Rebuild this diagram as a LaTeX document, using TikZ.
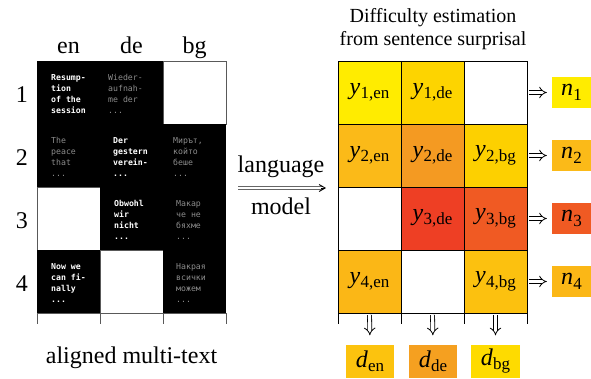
\documentclass[tikz,border=0pt]{standalone}
\usepackage{fontspec}
\setmainfont{Liberation Serif}
\newfontfamily\cellfont{DejaVu Sans Mono}
\usetikzlibrary{arrows.meta}
\definecolor{yA}{HTML}{FFEC00}
\definecolor{yB}{HTML}{FDD400}
\definecolor{yC}{HTML}{FBBA18}
\definecolor{yD}{HTML}{F49A22}
\definecolor{yE}{HTML}{FDD000}
\definecolor{yF}{HTML}{EE3F24}
\definecolor{yG}{HTML}{F05A23}
\definecolor{yH}{HTML}{FBB716}
\definecolor{yI}{HTML}{FCC10F}
\definecolor{dA}{HTML}{FCC30E}
\definecolor{dB}{HTML}{F5A020}
\definecolor{dC}{HTML}{FEDB00}
\definecolor{txtgray}{HTML}{8C8C8C}
\newcommand\sublab[2]{\textit{#1}\kern0.3pt\raisebox{-4.5pt}{\fontsize{17}{17}\selectfont #2}}
\tikzset{
  x=1pt, y=-1pt,
  big/.style={font=\fontsize{24}{28}\selectfont, inner sep=0pt},
  lcell/.style={minimum width=63pt, minimum height=63pt, inner sep=0pt, outer sep=0pt},
  blackcell/.style={lcell, fill=black},
  whitecell/.style={lcell, fill=white, draw=gray!70!black, line width=0.6pt},
  rcell/.style={lcell, draw=black, line width=0.8pt, font=\fontsize{24}{28}\selectfont},
  ctext/.style={anchor=west, align=left, inner sep=0pt, font=\cellfont\fontsize{8.2}{11}\selectfont},
  boldtxt/.style={ctext, text=white, font=\cellfont\bfseries\fontsize{8.2}{11}\selectfont},
  graytxt/.style={ctext, text=txtgray},
  outbox/.style={inner sep=0pt, font=\fontsize{24}{28}\selectfont},
  impl/.style={double, double distance=3.2pt, line width=0.8pt, -{Implies}},
  tick/.style={line width=0.8pt, draw=gray!70!black},
  shaft/.style={draw=gray!80!black, line width=0.8pt}
}
\begin{document}
\begin{tikzpicture}
\useasboundingbox (0,0) rectangle (591,378);
% column and row labels
\node[big, anchor=base] (len) at (68.5,53) {en};
\node[big, anchor=base] (lde) at (131.5,53) {de};
\node[big, anchor=base] (lbg) at (194.5,53) {bg};
\node[big] (r1) at (22,95) {1};
\node[big] (r2) at (22,158) {2};
\node[big] (r3) at (22,221) {3};
\node[big] (r4) at (22,284) {4};
% left grid
\node[blackcell] (a11) at (68.5,92.5) {};
\node[blackcell] (a12) at (131.5,92.5) {};
\node[whitecell] (a13) at (194.5,92.5) {};
\node[blackcell] (a21) at (68.5,155.5) {};
\node[blackcell] (a22) at (131.5,155.5) {};
\node[blackcell] (a23) at (194.5,155.5) {};
\node[whitecell] (a31) at (68.5,218.5) {};
\node[blackcell] (a32) at (131.5,218.5) {};
\node[blackcell] (a33) at (194.5,218.5) {};
\node[blackcell] (a41) at (68.5,281.5) {};
\node[whitecell] (a42) at (131.5,281.5) {};
\node[blackcell] (a43) at (194.5,281.5) {};
\draw[tick] (37,313) -- (226,313);
\foreach \xx in {37,100,163,226} \draw[tick] (\xx,313) -- (\xx,324);
% cell texts
\node[boldtxt] (t11) at (51,94) {Resump-\\tion\\of the\\session};
\node[graytxt] (t12) at (108,94) {Wieder-\\aufnah-\\me der\\...};
\node[graytxt] (t21) at (51,157) {The\\peace\\that\\...};
\node[boldtxt] (t22) at (113,157) {Der\\gestern\\verein-\\...};
\node[graytxt] (t23) at (173,157) {Мирът,\\който\\беше\\...};
\node[boldtxt] (t32) at (114,220) {Obwohl\\wir\\nicht\\...};
\node[graytxt] (t33) at (176,220) {Макар\\че не\\бяхме\\...};
\node[boldtxt] (t41) at (51,283) {Now we\\can fi-\\nally\\...};
\node[graytxt] (t43) at (176,283) {Накрая\\всички\\можем\\...};
\node[big] (cap) at (131.5,358) {aligned multi-text};
% language model arrow
\node[big] (lang) at (281,167) {language};
\node[big] (model) at (281,206) {model};
\coordinate (lmA1) at (238,186.6);
\coordinate (lmC1) at (322,186.6);
\coordinate (lmA2) at (238,189.4);
\coordinate (lmC2) at (322,189.4);
\coordinate (lmB) at (326,188);
\draw[shaft] (lmA1) -- (lmC1);
\draw[shaft] (lmA2) -- (lmC2);
\draw[{Straight Barb[length=6pt,width=7pt]}-, line width=0.9pt] (lmB) -- ++(-5,0);
% title
\node[font=\fontsize{20}{23}\selectfont, align=center, inner sep=0pt] (title) at (433,29) {Difficulty estimation\\from sentence surprisal};
% right grid
\node[rcell, fill=yA] (b11) at (369.5,92.5) {\sublab{y}{1,en}};
\node[rcell, fill=yB] (b12) at (432.5,92.5) {\sublab{y}{1,de}};
\node[rcell, fill=white] (b13) at (495.5,92.5) {};
\node[rcell, fill=yC] (b21) at (369.5,155.5) {\sublab{y}{2,en}};
\node[rcell, fill=yD] (b22) at (432.5,155.5) {\sublab{y}{2,de}};
\node[rcell, fill=yE] (b23) at (495.5,155.5) {\sublab{y}{2,bg}};
\node[rcell, fill=white] (b31) at (369.5,218.5) {};
\node[rcell, fill=yF] (b32) at (432.5,218.5) {\sublab{y}{3,de}};
\node[rcell, fill=yG] (b33) at (495.5,218.5) {\sublab{y}{3,bg}};
\node[rcell, fill=yH] (b41) at (369.5,281.5) {\sublab{y}{4,en}};
\node[rcell, fill=white] (b42) at (432.5,281.5) {};
\node[rcell, fill=yI] (b43) at (495.5,281.5) {\sublab{y}{4,bg}};
\foreach \xx in {338,401,464,527} \draw[line width=0.8pt] (\xx,313) -- (\xx,324);
% n boxes
\node[outbox, fill=yA, minimum width=39pt, minimum height=31pt] (n1) at (571.5,92.5) {\sublab{n}{1}};
\node[outbox, fill=yC, minimum width=39pt, minimum height=31pt] (n2) at (571.5,155.5) {\sublab{n}{2}};
\node[outbox, fill=yG, minimum width=39pt, minimum height=31pt] (n3) at (571.5,218.5) {\sublab{n}{3}};
\node[outbox, fill=yH, minimum width=39pt, minimum height=31pt] (n4) at (571.5,281.5) {\sublab{n}{4}};
\foreach \r in {1,2,3,4} \draw[impl, shorten <=2pt, shorten >=5pt] (b\r3.east) -- (n\r.west);
% d boxes
\node[outbox, fill=dA, minimum width=48pt, minimum height=33pt] (d1) at (370,361) {\sublab{d}{en}};
\node[outbox, fill=dB, minimum width=48pt, minimum height=33pt] (d2) at (433,361) {\sublab{d}{de}};
\node[outbox, fill=dC, minimum width=49pt, minimum height=33pt] (d3) at (495.5,361) {\sublab{d}{bg}};
\draw[impl, shorten <=2pt, shorten >=9pt] (b41.south) -- (d1.north);
\draw[impl, shorten <=2pt, shorten >=9pt] (b42.south) -- (d2.north);
\draw[impl, shorten <=2pt, shorten >=9pt] (b43.south) -- (d3.north);
\end{tikzpicture}
\end{document}
